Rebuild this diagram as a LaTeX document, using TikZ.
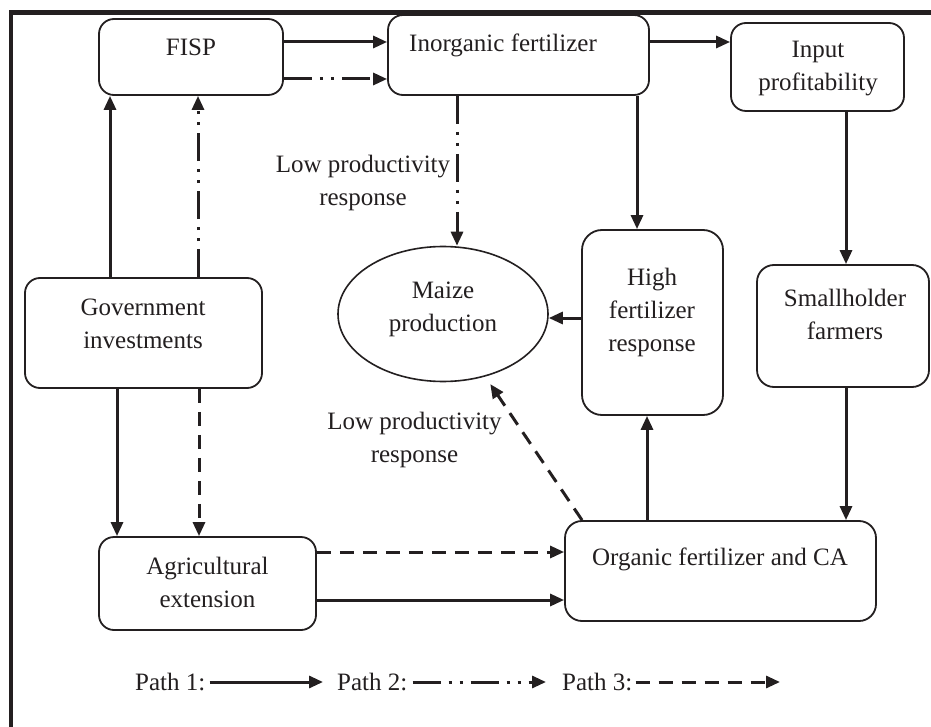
\documentclass[tikz,border=0pt]{standalone}
\usepackage{fontspec}
\setmainfont{Liberation Serif}
\usetikzlibrary{arrows.meta,shapes.geometric,calc}
\definecolor{ink}{HTML}{231F20}
\begin{document}
\begin{tikzpicture}[x=1pt,y=-1pt,
  box/.style={draw=ink, line width=1.8pt, rounded corners=15pt, inner sep=0pt, rectangle},
  txt/.style={align=center, inner sep=0pt, text=ink, font=\fontsize{25pt}{33pt}\selectfont},
  conn/.style={draw=ink, line width=3pt, -{Triangle[length=14pt,width=12pt]}},
  dashdot/.style={dash pattern=on 28pt off 8pt on 3pt off 8pt on 3pt off 8pt},
  dashedline/.style={dash pattern=on 14pt off 9pt}]
\useasboundingbox (0,0) rectangle (931,727);
\fill[white] (0,0) rectangle (931,727);
% frame
\draw[ink, line width=4.5pt] (11,740) -- (11,12.5) -- (940,12.5);

% boxes
\node[box, minimum width=184pt, minimum height=76pt] (fisp) at (191,57) {};
\node[box, minimum width=261pt, minimum height=80pt] (inorg) at (518.5,55) {};
\node[box, minimum width=173pt, minimum height=88pt] (input) at (817.5,67) {};
\node[box, minimum width=237pt, minimum height=110pt] (gov) at (143.5,333) {};
\node[draw=ink, line width=1.6pt, ellipse, inner sep=0pt, minimum width=210pt, minimum height=135pt] (maize) at (443,314) {};
\node[box, rounded corners=20pt, minimum width=141pt, minimum height=185pt] (high) at (652.5,322.5) {};
\node[box, rounded corners=17pt, minimum width=172pt, minimum height=122pt] (small) at (843,326) {};
\node[box, minimum width=217pt, minimum height=93pt] (agri) at (207.5,583.5) {};
\node[box, rounded corners=17pt, minimum width=311pt, minimum height=100pt] (organic) at (720.5,571) {};

% texts
\node[txt] (fispT) at (191,47) {FISP};
\node[txt] (inorgT) at (503,45) {Inorganic fertilizer};
\node[txt] (inputT) at (818,68.5) {Input\\profitability};
\node[txt] (govT) at (143,324) {Government\\investments};
\node[txt] (maizeT) at (443,309) {Maize\\production};
\node[txt] (highT) at (652,312) {High\\fertilizer\\response};
\node[txt] (smallT) at (845,314) {Smallholder\\farmers};
\node[txt] (agriT) at (207.5,582.5) {Agricultural\\extension};
\node[txt] (organicT) at (720,559) {Organic fertilizer and CA};
\node[txt] (low1) at (363,183) {Low productivity\\response};
\node[txt] (low2) at (414.5,440) {Low productivity\\response};

% connectors
\draw[conn] (fisp.east |- 0,42) -- (inorg.west |- 0,42);
\draw[conn, dashdot] (fisp.east |- 0,79) -- (inorg.west |- 0,79);
\draw[conn] (inorg.east |- 0,42) -- (input.west |- 0,42);
\draw[conn] (gov.north -| 110,0) -- (fisp.south -| 110,0);
\draw[conn, dashdot] (gov.north -| 198,0) -- (fisp.south -| 198,0);
\draw[conn] (gov.south -| 117,0) -- (agri.north -| 117,0);
\draw[conn, dashedline] (gov.south -| 199,0) -- (agri.north -| 199,0);
\draw[conn, dashdot] (inorg.south -| 457,0) -- (maize.north -| 457,0);
\draw[conn] (inorg.south -| 637,0) -- (high.north -| 637,0);
\draw[conn] (high.west |- 0,318) -- (maize.east |- 0,318);
\draw[conn] (input.south -| 846,0) -- (small.north -| 846,0);
\draw[conn] (small.south -| 846,0) -- (organic.north -| 846,0);
\draw[conn] (organic.north -| 647,0) -- (high.south -| 647,0);
\draw[conn, dashedline, shorten >=9pt] (organic.north -| 582,0) -- (maize);
\draw[conn, dashedline] (agri.east |- 0,552) -- (organic.west |- 0,552);
\draw[conn] (agri.east |- 0,600) -- (organic.west |- 0,600);

% legend
\node[txt, anchor=west] (p1) at (135,682) {Path 1:};
\coordinate (p1e) at (323,682);
\draw[conn] ([xshift=4pt]p1.east) -- (p1e);
\node[txt, anchor=west] (p2) at (337,682) {Path 2:};
\coordinate (p2e) at (546,682);
\draw[conn, dashdot] ([xshift=5pt]p2.east) -- (p2e);
\node[txt, anchor=west] (p3) at (562,682) {Path 3:};
\coordinate (p3e) at (780,682);
\draw[conn, dashedline] ([xshift=3pt]p3.east) -- (p3e);
\end{tikzpicture}
\end{document}
